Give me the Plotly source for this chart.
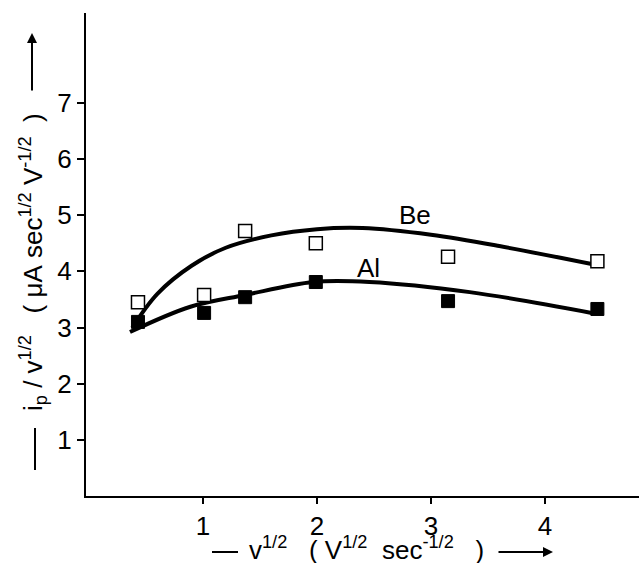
import plotly.graph_objects as go

# ---- data ----
sqrt_v = [0.43, 1.01, 1.37, 1.99, 3.15, 4.46]
be_vals = [3.45, 3.58, 4.72, 4.50, 4.26, 4.18]
al_vals = [3.10, 3.26, 3.54, 3.81, 3.47, 3.33]

be_fit_x = [0.38, 0.60, 0.90, 1.20, 1.60, 2.00, 2.40, 3.00, 3.60, 4.41]
be_fit_y = [3.00, 3.60, 4.10, 4.42, 4.64, 4.75, 4.77, 4.65, 4.45, 4.13]
al_fit_x = [0.36, 0.89, 1.37, 1.97, 2.46, 3.34, 4.41]
al_fit_y = [2.92, 3.37, 3.58, 3.81, 3.81, 3.63, 3.26]

x_ticks = [1, 2, 3, 4]
y_ticks = [1, 2, 3, 4, 5, 6, 7]

W, H = 639, 563
L, R, T, B = 86, 0, 13, 67
FONT = "Liberation Sans"
FS = 26
NB = "&nbsp;"

def px(x):
    return (x - L) / (W - L - R)

def py(y):
    return (H - B - y) / (H - T - B)

fig = go.Figure()
fig.add_trace(go.Scatter(x=be_fit_x, y=be_fit_y, mode="lines",
                         line=dict(color="black", width=4, shape="spline", smoothing=1.0),
                         hoverinfo="skip", showlegend=False))
fig.add_trace(go.Scatter(x=al_fit_x, y=al_fit_y, mode="lines",
                         line=dict(color="black", width=4, shape="spline", smoothing=1.0),
                         hoverinfo="skip", showlegend=False))
fig.add_trace(go.Scatter(x=sqrt_v, y=be_vals, mode="markers", name="Be",
                         marker=dict(symbol="square", size=13, color="white",
                                     line=dict(color="black", width=1.5)),
                         showlegend=False))
fig.add_trace(go.Scatter(x=sqrt_v, y=al_vals, mode="markers", name="Al",
                         marker=dict(symbol="square", size=13, color="black",
                                     line=dict(color="black", width=1)),
                         showlegend=False))

y_title = ("i<sub>p</sub>" + NB + "/" + NB + "v<sup>1/2</sup>" + NB * 3 + "(" + NB + "μA"
           + NB + "sec<sup>1/2</sup>" + NB + "V<sup>-1/2</sup>" + NB * 2 + ")")
x_title = ("v<sup>1/2</sup>" + NB * 3 + "(" + NB + "V<sup>1/2</sup>" + NB * 2
           + "sec<sup>-1/2</sup>" + NB * 3 + ")")

annotations = [
    dict(x=2.86, y=5.0, xref="x", yref="y", text="Be", showarrow=False,
         font=dict(family=FONT, size=FS, color="black")),
    dict(x=2.45, y=4.06, xref="x", yref="y", text="Al", showarrow=False,
         font=dict(family=FONT, size=FS, color="black")),
    # y title
    dict(x=px(33), y=py(262), xref="paper", yref="paper", textangle=-90,
         text=y_title, showarrow=False, xanchor="center", yanchor="middle",
         font=dict(family=FONT, size=FS, color="black")),
    # x title
    dict(x=px(366), y=py(548), xref="paper", yref="paper",
         text=x_title, showarrow=False, xanchor="center", yanchor="middle",
         font=dict(family=FONT, size=FS, color="black")),
    # y arrow
    dict(x=px(32), y=py(33), xref="paper", yref="paper",
         ax=0, ay=59, axref="pixel", ayref="pixel", text="",
         showarrow=True, arrowhead=2, arrowsize=1, arrowwidth=2, arrowcolor="black"),
    # x arrow
    dict(x=px(553), y=py(552), xref="paper", yref="paper",
         ax=-56, ay=0, axref="pixel", ayref="pixel", text="",
         showarrow=True, arrowhead=2, arrowsize=1, arrowwidth=2, arrowcolor="black"),
]

shapes = [
    dict(type="line", xref="paper", yref="paper", x0=px(35), x1=px(35), y0=py(428), y1=py(470),
         line=dict(color="black", width=2)),
    dict(type="line", xref="paper", yref="paper", x0=px(212), x1=px(238), y0=py(552), y1=py(552),
         line=dict(color="black", width=2)),
]

fig.update_layout(
    width=W, height=H,
    margin=dict(l=L, r=R, t=T, b=B, pad=0),
    paper_bgcolor="white", plot_bgcolor="white",
    font=dict(family=FONT, size=FS, color="black"),
    annotations=annotations, shapes=shapes,
    xaxis=dict(range=[-0.026, 4.825], tickvals=x_ticks, ticktext=[str(v) for v in x_ticks],
               showgrid=False, zeroline=False, showline=True, linecolor="black", linewidth=2,
               ticks="outside", ticklen=6, tickwidth=1.5, tickcolor="black",
               tickfont=dict(family=FONT, size=FS, color="black")),
    yaxis=dict(range=[0, 8.6], tickvals=y_ticks, ticktext=[str(v) for v in y_ticks],
               showgrid=False, zeroline=False, showline=True, linecolor="black", linewidth=2,
               ticks="outside", ticklen=7, tickwidth=1.5, tickcolor="black",
               tickfont=dict(family=FONT, size=FS, color="black")),
)

fig.write_html("out.html")
